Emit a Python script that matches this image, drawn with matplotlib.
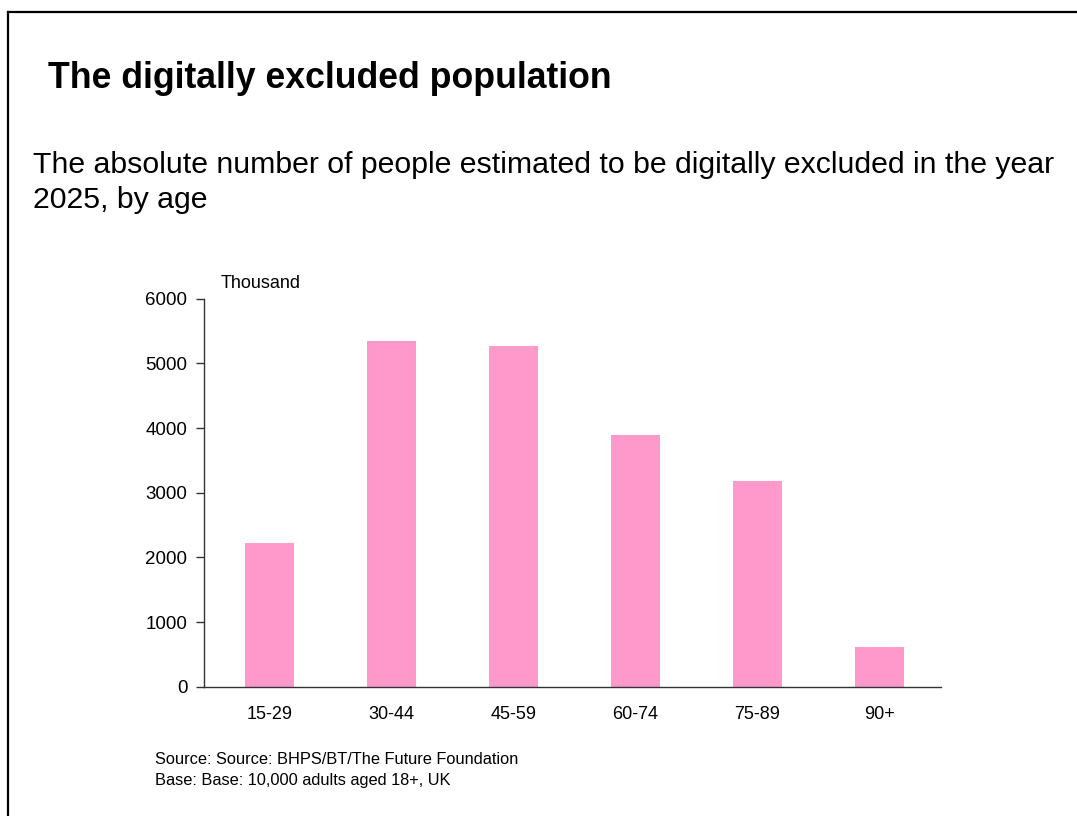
import matplotlib
matplotlib.use("Agg")
import matplotlib.pyplot as plt
from matplotlib.lines import Line2D

age_groups = ["15-29", "30-44", "45-59", "60-74", "75-89", "90+"]
excluded_thousands = [2220, 5340, 5270, 3890, 3180, 610]
y_ticks = [0, 1000, 2000, 3000, 4000, 5000, 6000]

plt.rcParams["font.family"] = ["Liberation Sans", "DejaVu Sans"]

fig = plt.figure(figsize=(10.77, 8.16), dpi=100)

# slide frame: left and top edges only
fig.add_artist(Line2D([7.5 / 1077, 7.5 / 1077], [0, 1 - 12 / 816],
                      transform=fig.transFigure, color="black", lw=1.6))
fig.add_artist(Line2D([7.5 / 1077, 1], [1 - 12 / 816, 1 - 12 / 816],
                      transform=fig.transFigure, color="black", lw=1.6))

fig.text(48 / 1077, 1 - 78 / 816, "The digitally excluded population",
         fontsize=25.7, fontweight="bold", va="center", ha="left")
fig.text(33 / 1077, 1 - 165 / 816,
         "The absolute number of people estimated to be digitally excluded in the year",
         fontsize=21.8, va="center", ha="left")
fig.text(33 / 1077, 1 - 200 / 816, "2025, by age",
         fontsize=21.8, va="center", ha="left")

ax = fig.add_axes([204 / 1077, 1 - 686.7 / 816, 737 / 1077, 388 / 816])
x = range(len(age_groups))
ax.bar(x, excluded_thousands, width=0.4, color="#ff99cc")
ax.set_xlim(-0.537, len(age_groups) - 0.496)
ax.set_ylim(0, 6000)
ax.set_yticks(y_ticks)
ax.set_xticks(list(x))
ax.set_xticklabels(age_groups)
ax.tick_params(axis="y", length=6, width=1, color="#333333", labelsize=13.5, pad=6)
ax.tick_params(axis="x", length=0, labelsize=13, pad=14)
for side in ["top", "right"]:
    ax.spines[side].set_visible(False)
for side in ["left", "bottom"]:
    ax.spines[side].set_color("#333333")
    ax.spines[side].set_linewidth(1)

ax.text(221 / 1077, 1 - 284 / 816, "Thousand", transform=fig.transFigure,
        fontsize=13, va="center", ha="left")

fig.text(155 / 1077, 1 - 760 / 816, "Source: Source: BHPS/BT/The Future Foundation",
         fontsize=11.8, va="center", ha="left")
fig.text(155 / 1077, 1 - 780 / 816, "Base: Base: 10,000 adults aged 18+, UK",
         fontsize=11.8, va="center", ha="left")

fig.savefig("out.png", dpi=100)
